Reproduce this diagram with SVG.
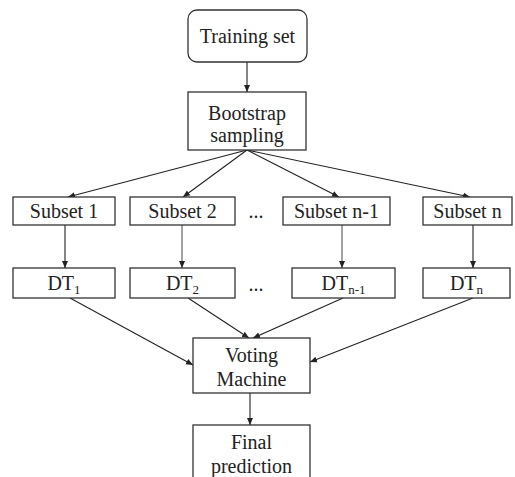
<svg xmlns="http://www.w3.org/2000/svg" width="515" height="477" viewBox="0 0 515 477">
<defs>
<marker id="ah" markerWidth="8" markerHeight="8" refX="7" refY="4" orient="auto" markerUnits="userSpaceOnUse">
<path d="M0,1 L7,4 L0,7 Z" fill="#222"/>
</marker>
<style>
.box{fill:#fff;stroke:#333;stroke-width:1.3}
.c{stroke:#222;stroke-width:1.1;fill:none;marker-end:url(#ah)}
</style>
</defs>
<rect width="515" height="477" fill="#fff"/>
<g id="connectors">
<line class="c" x1="247" y1="62" x2="247" y2="92"/>
<line class="c" x1="247" y1="150" x2="68" y2="197"/>
<line class="c" x1="247" y1="150" x2="183" y2="197"/>
<line class="c" x1="247" y1="150" x2="339" y2="197"/>
<line class="c" x1="247" y1="150" x2="470" y2="197"/>
<line class="c" x1="65" y1="225" x2="65" y2="268"/>
<line class="c" x1="182" y1="225" x2="182" y2="268" style="stroke:#555"/>
<line class="c" x1="342" y1="225" x2="342" y2="268" style="stroke:#555"/>
<line class="c" x1="473" y1="225" x2="473" y2="268"/>
<line class="c" x1="70" y1="298" x2="193" y2="365"/>
<line class="c" x1="188" y1="298" x2="249" y2="338"/>
<line class="c" x1="343" y1="298" x2="253" y2="338"/>
<line class="c" x1="473" y1="298" x2="310" y2="362"/>
<line class="c" x1="250" y1="393" x2="250" y2="425"/>
</g>
<g id="labels" font-family="Liberation Serif" font-size="20" fill="#222" text-anchor="middle">
<g id="training">
<rect class="box" x="188" y="10" width="119" height="52" rx="9"/>
<text x="247.5" y="43">Training set</text>
</g>
<g id="bootstrap">
<rect class="box" x="188" y="92" width="118" height="58"/>
<text x="247" y="120">Bootstrap</text>
<text x="247" y="142">sampling</text>
</g>
<g id="subset1">
<rect class="box" x="13" y="197" width="102" height="28"/>
<text x="64" y="218">Subset 1</text>
</g>
<g id="subset2">
<rect class="box" x="130" y="197" width="105" height="28"/>
<text x="182.5" y="218">Subset 2</text>
</g>
<g id="dots1">
<text x="256" y="218">...</text>
</g>
<g id="subsetn1">
<rect class="box" x="283" y="197" width="107" height="28"/>
<text x="336.5" y="218">Subset n-1</text>
</g>
<g id="subsetn">
<rect class="box" x="423" y="197" width="89" height="28"/>
<text x="467.5" y="218">Subset n</text>
</g>
<g id="dt1">
<rect class="box" x="13" y="268" width="102" height="30"/>
<text x="64" y="290">DT<tspan font-size="13" dy="4">1</tspan></text>
</g>
<g id="dt2">
<rect class="box" x="130" y="268" width="105" height="30"/>
<text x="182.5" y="290">DT<tspan font-size="13" dy="4">2</tspan></text>
</g>
<g id="dots2">
<text x="256" y="291">...</text>
</g>
<g id="dtn1">
<rect class="box" x="292" y="268" width="103" height="30"/>
<text x="343.5" y="290">DT<tspan font-size="13" dy="4">n-1</tspan></text>
</g>
<g id="dtn">
<rect class="box" x="423" y="268" width="87" height="30"/>
<text x="466.5" y="290">DT<tspan font-size="13" dy="4">n</tspan></text>
</g>
<g id="voting">
<rect class="box" x="193" y="338" width="117" height="55"/>
<text x="251.5" y="362">Voting</text>
<text x="251.5" y="386">Machine</text>
</g>
<g id="final">
<rect class="box" x="193" y="425" width="117" height="60"/>
<text x="251.5" y="449">Final</text>
<text x="251.5" y="473">prediction</text>
</g>
</g>
</svg>
